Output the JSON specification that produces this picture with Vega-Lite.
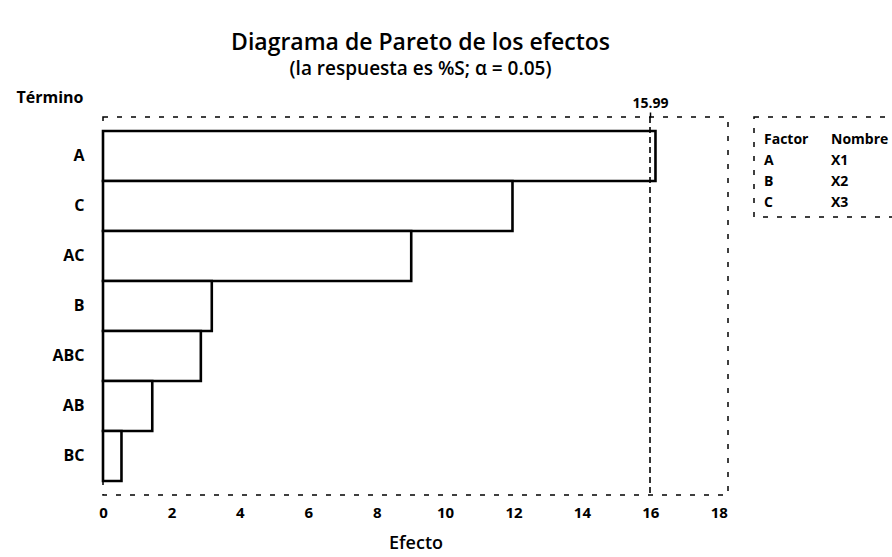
{
  "$schema": "https://vega.github.io/schema/vega-lite/v6.json",
  "padding": {"left": 15, "top": 31, "right": 0, "bottom": 0},
  "background": "white",
  "config": {
    "font": "Open Sans",
    "view": {"stroke": "#000", "strokeWidth": 1.5, "strokeDash": [5, 9]}
  },
  "bounds": "flush",
  "spacing": 26,
  "hconcat": [
    {
      "width": 625,
      "height": 378,
      "title": {
        "text": "Diagrama de Pareto de los efectos",
        "subtitle": "(la respuesta es %S; α = 0.05)",
        "anchor": "middle",
        "frame": "group",
        "dx": 5,
        "fontSize": 23,
        "fontWeight": 600,
        "color": "#000",
        "subtitleFontSize": 19,
        "subtitleFontWeight": 600,
        "subtitleColor": "#000",
        "subtitlePadding": 5,
        "offset": 10
      },
      "layer": [
        {
          "data": {
            "values": [
              {"termino": "A", "efecto": 16.15},
              {"termino": "C", "efecto": 11.97},
              {"termino": "AC", "efecto": 9.01},
              {"termino": "B", "efecto": 3.18},
              {"termino": "ABC", "efecto": 2.86},
              {"termino": "AB", "efecto": 1.44},
              {"termino": "BC", "efecto": 0.54}
            ]
          },
          "mark": {"type": "bar", "fill": "white", "stroke": "#000", "strokeWidth": 2.6},
          "encoding": {
            "y": {
              "field": "termino",
              "type": "nominal",
              "sort": "-x",
              "scale": {"paddingInner": 0, "paddingOuter": 0.28},
              "axis": {
                "title": "Término",
                "titleAngle": 0,
                "titleAlign": "left",
                "titleBaseline": "middle",
                "titleX": -87,
                "titleY": -20,
                "titleFontSize": 16,
                "titleFontWeight": "bold",
                "titleColor": "#000",
                "labelFontSize": 16,
                "labelFontWeight": "bold",
                "labelColor": "#000",
                "labelPadding": 19,
                "ticks": false,
                "domain": false
              }
            },
            "x": {
              "field": "efecto",
              "type": "quantitative",
              "scale": {"domain": [0, 18.27], "nice": false, "zero": true},
              "axis": {
                "title": "Efecto",
                "titleFontSize": 18,
                "titleFontWeight": 600,
                "titleColor": "#000",
                "titlePadding": 14,
                "values": [0, 2, 4, 6, 8, 10, 12, 14, 16, 18],
                "labelFontSize": 15,
                "labelFontWeight": "bold",
                "labelColor": "#000",
                "labelPadding": 10,
                "labelFlush": false,
                "ticks": false,
                "domain": false,
                "grid": false
              }
            }
          }
        },
        {
          "data": {"values": [{"limite": 15.99}]},
          "mark": {"type": "rule", "stroke": "#000", "strokeWidth": 1.6, "strokeDash": [6, 4]},
          "encoding": {
            "x": {
              "field": "limite",
              "type": "quantitative",
              "axis": {
                "orient": "top",
                "title": null,
                "values": [15.99],
                "format": ".2f",
                "labelFontSize": 14,
                "labelFontWeight": "bold",
                "labelColor": "#000",
                "labelPadding": 2,
                "tickSize": 5,
                "tickColor": "#000",
                "tickWidth": 1.5,
                "domain": false,
                "grid": false
              }
            }
          }
        }
      ],
      "resolve": {"axis": {"x": "independent"}}
    },
    {
      "width": 139,
      "height": 100,
      "data": {
        "values": [
          {"fila": "encabezado", "columna": "Factor", "texto": "Factor"},
          {"fila": "encabezado", "columna": "Nombre", "texto": "Nombre"},
          {"fila": "A", "columna": "Factor", "texto": "A"},
          {"fila": "A", "columna": "Nombre", "texto": "X1"},
          {"fila": "B", "columna": "Factor", "texto": "B"},
          {"fila": "B", "columna": "Nombre", "texto": "X2"},
          {"fila": "C", "columna": "Factor", "texto": "C"},
          {"fila": "C", "columna": "Nombre", "texto": "X3"}
        ]
      },
      "mark": {"type": "text", "align": "left", "baseline": "middle", "fontSize": 14, "fontWeight": "bold", "color": "#000", "clip": true},
      "encoding": {
        "x": {
          "field": "columna",
          "type": "nominal",
          "scale": {"type": "point", "padding": 0, "domain": ["Factor", "Nombre"], "range": [10, 77]},
          "axis": null
        },
        "y": {
          "field": "fila",
          "type": "nominal",
          "scale": {"type": "point", "padding": 0, "domain": ["encabezado", "A", "B", "C"], "range": [23, 86]},
          "axis": null
        },
        "text": {"field": "texto"}
      }
    }
  ]
}
